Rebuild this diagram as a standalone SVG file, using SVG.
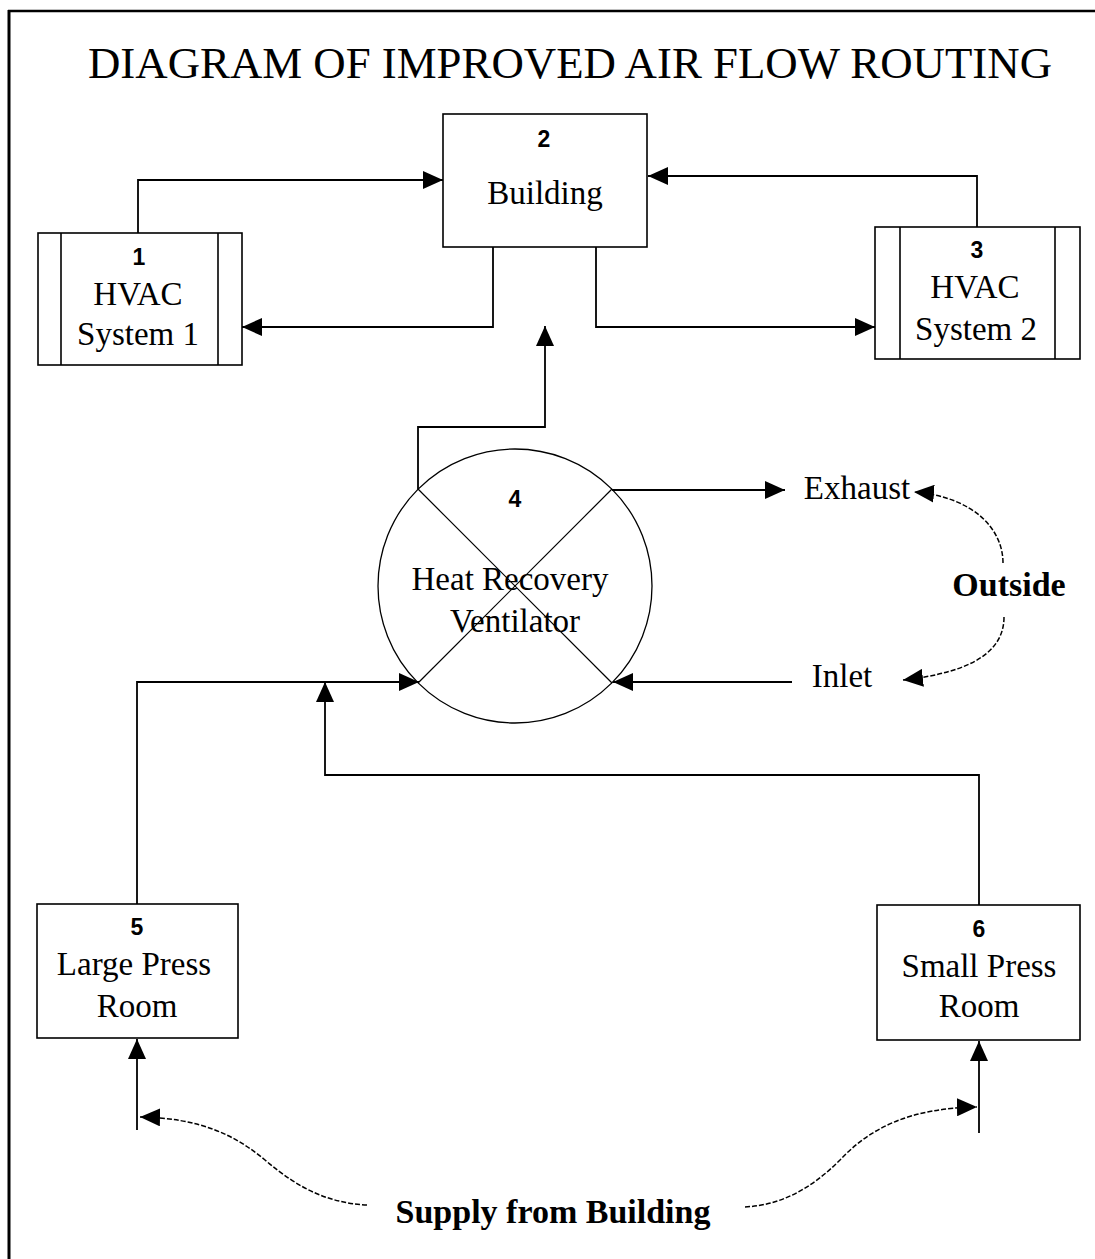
<svg xmlns="http://www.w3.org/2000/svg" width="1095" height="1259" viewBox="0 0 1095 1259">
<style>
.lbl{font-family:"Liberation Serif","Times New Roman",serif;font-size:33px;fill:#000;text-anchor:middle}
.bold{font-family:"Liberation Serif","Times New Roman",serif;font-size:34px;font-weight:bold;fill:#000;text-anchor:middle}
.num{font-family:"Liberation Sans",Arial,sans-serif;font-size:23px;font-weight:bold;fill:#000;text-anchor:middle}
.box{fill:#fff;stroke:#000;stroke-width:1.6}
.ln{fill:none;stroke:#000;stroke-width:1.8}
.cv{fill:none;stroke:#000;stroke-width:1.5;stroke-dasharray:5 2}
</style>
<defs>
<marker id="ah" viewBox="0 0 20 18" refX="20" refY="9" markerWidth="20" markerHeight="18" markerUnits="userSpaceOnUse" orient="auto">
<path d="M0,0 L20,9 L0,18 z" fill="#000"/>
</marker>
</defs>
<rect width="1095" height="1259" fill="#fff"/>
<g id="frame">
<line x1="8" y1="11" x2="1095" y2="11" stroke="#000" stroke-width="2.5"/>
<line x1="9" y1="10" x2="9" y2="1259" stroke="#000" stroke-width="3"/>
</g>
<text id="title" x="88" y="78" textLength="964" lengthAdjust="spacingAndGlyphs" style="font-family:'Liberation Serif','Times New Roman',serif;font-size:45px;fill:#000">DIAGRAM OF IMPROVED AIR FLOW ROUTING</text>
<g id="connectors">
<path class="ln" d="M138,233 V180 H443" marker-end="url(#ah)"/>
<path class="ln" d="M977,227 V176 H648" marker-end="url(#ah)"/>
<path class="ln" d="M493,247 V327 H242" marker-end="url(#ah)"/>
<path class="ln" d="M596,247 V327 H875" marker-end="url(#ah)"/>
<path class="ln" d="M418,489 V427 H545 V326" marker-end="url(#ah)"/>
<path class="ln" d="M612,490 H785" marker-end="url(#ah)"/>
<path class="ln" d="M792,682 H613" marker-end="url(#ah)"/>
<path class="ln" d="M137,904 V682 H419" marker-end="url(#ah)"/>
<path class="ln" d="M979,905 V775 H325 V682" marker-end="url(#ah)"/>
<path class="ln" d="M137,1130 V1039" marker-end="url(#ah)"/>
<path class="ln" d="M979,1133 V1041" marker-end="url(#ah)"/>
<path class="cv" d="M1003,563 C1003,530 975,497 914,492" marker-end="url(#ah)"/>
<path class="cv" d="M1004,617 C1004,650 975,672 903,680" marker-end="url(#ah)"/>
<path class="cv" d="M367,1205 C330,1203 300,1190 265,1160 C235,1135 200,1118 140,1117" marker-end="url(#ah)"/>
<path class="cv" d="M745,1207 C780,1205 810,1190 840,1160 C870,1128 910,1108 977,1107" marker-end="url(#ah)"/>
</g>
<g id="node1">
<rect class="box" x="38" y="233" width="204" height="132"/>
<line x1="61" y1="233" x2="61" y2="365" stroke="#000" stroke-width="1.6"/>
<line x1="218" y1="233" x2="218" y2="365" stroke="#000" stroke-width="1.6"/>
<text class="num" x="139" y="265">1</text>
<text class="lbl" x="138" y="305">HVAC</text>
<text class="lbl" x="138" y="345">System 1</text>
</g>
<g id="node2">
<rect class="box" x="443" y="114" width="204" height="133"/>
<text class="num" x="544" y="147">2</text>
<text class="lbl" x="545" y="204">Building</text>
</g>
<g id="node3">
<rect class="box" x="875" y="227" width="205" height="132"/>
<line x1="900" y1="227" x2="900" y2="359" stroke="#000" stroke-width="1.6"/>
<line x1="1055" y1="227" x2="1055" y2="359" stroke="#000" stroke-width="1.6"/>
<text class="num" x="977" y="258">3</text>
<text class="lbl" x="975" y="298">HVAC</text>
<text class="lbl" x="976" y="340">System 2</text>
</g>
<g id="node4">
<circle cx="515" cy="586" r="137" fill="none" stroke="#000" stroke-width="1.3"/>
<line x1="418" y1="489" x2="612" y2="683" stroke="#000" stroke-width="1.2"/>
<line x1="612" y1="489" x2="418" y2="683" stroke="#000" stroke-width="1.2"/>
<text class="num" x="515" y="507">4</text>
<text class="lbl" x="510" y="590">Heat Recovery</text>
<text class="lbl" x="515" y="632">Ventilator</text>
</g>
<g id="node5">
<rect class="box" x="37" y="904" width="201" height="134"/>
<text class="num" x="137" y="935">5</text>
<text class="lbl" x="134" y="975">Large Press</text>
<text class="lbl" x="137" y="1017">Room</text>
</g>
<g id="node6">
<rect class="box" x="877" y="905" width="203" height="135"/>
<text class="num" x="979" y="937">6</text>
<text class="lbl" x="979" y="977">Small Press</text>
<text class="lbl" x="979" y="1017">Room</text>
</g>
<g id="labels">
<text class="lbl" x="857" y="499">Exhaust</text>
<text class="lbl" x="842" y="687">Inlet</text>
<text class="bold" x="1009" y="596">Outside</text>
<text class="bold" x="553" y="1223">Supply from Building</text>
</g>
</svg>
